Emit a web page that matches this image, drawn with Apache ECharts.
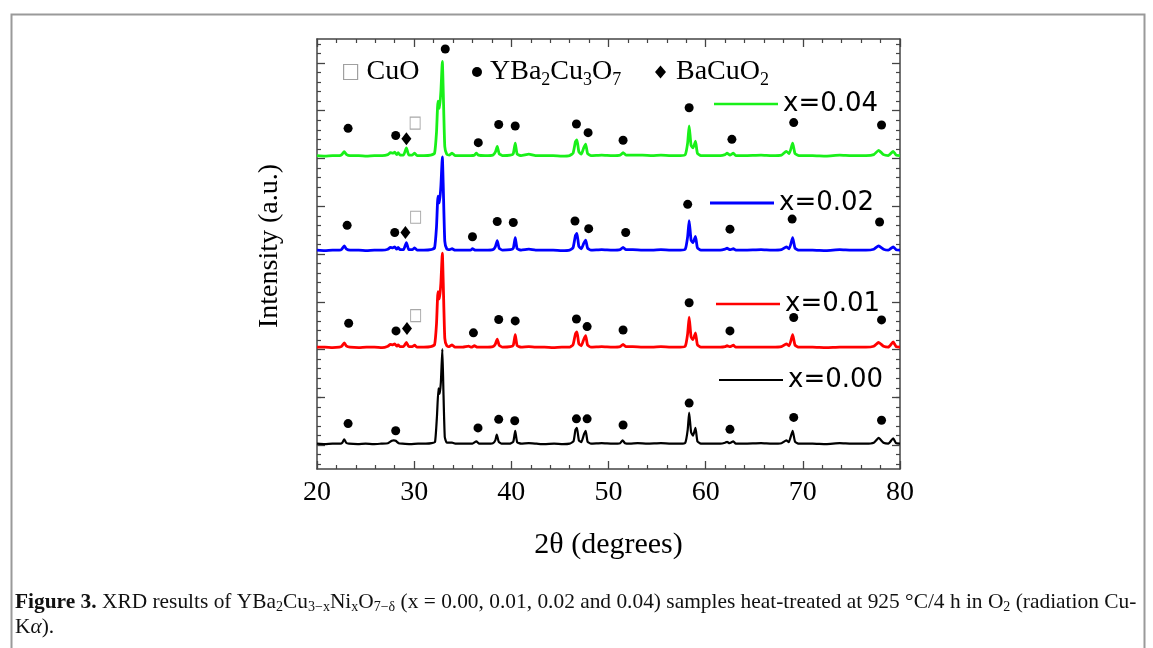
<!DOCTYPE html>
<html>
<head>
<meta charset="utf-8">
<title>XRD YBa2Cu3-xNixO7</title>
<script src="https://cdn.jsdelivr.net/npm/echarts@6/dist/echarts.min.js"></script>
<style>
  html, body { margin: 0; padding: 0; background: #fff; }
  #chart { width: 1153px; height: 648px; }
</style>
</head>
<body>
<div id="chart"></div>
<script>
// XRD patterns, [2theta, intensity above own baseline] (a.u.)
var seriesNames = ['x=0.00', 'x=0.01', 'x=0.02', 'x=0.04'];
var seriesColors = ['#000000', '#ff0000', '#0000ff', '#19f019'];
var baselineOffsets = [0.52, 2.54, 4.57, 6.55];

var pattern000 = [[20,0.01],[20.8,0.0],[21.6,0.01],[22.4,0.01],[22.6,0.03],[22.8,0.10],[23.0,0.03],[23.3,0.01],[24.2,0.0],[25.0,0.01],[25.8,0.0],[26.6,0.01],[27.3,0.02],[27.7,0.07],[27.9,0.08],[28.1,0.07],[28.4,0.02],[28.8,0.01],[29.6,0.0],[30.4,0.01],[31.2,0.01],[31.8,0.02],[32.15,0.05],[32.35,0.6],[32.5,1.17],[32.62,1.05],[32.75,1.3],[32.9,1.99],[33.0,1.2],[33.15,0.15],[33.35,0.03],[33.9,0.03],[34.3,0.01],[35.2,0.01],[36.0,0.01],[36.4,0.06],[36.7,0.01],[37.4,0.01],[38.1,0.02],[38.35,0.08],[38.5,0.20],[38.7,0.05],[39.0,0.01],[39.8,0.01],[40.2,0.05],[40.4,0.28],[40.6,0.04],[41.0,0.01],[41.8,0.02],[42.6,0.01],[43.4,0.0],[44.4,0.01],[45.3,0.0],[46.0,0.01],[46.4,0.06],[46.6,0.30],[46.75,0.34],[46.95,0.08],[47.2,0.04],[47.5,0.22],[47.65,0.28],[47.85,0.05],[48.2,0.01],[49.3,0.02],[50.4,0.01],[51.2,0.02],[51.45,0.08],[51.7,0.02],[52.2,0.01],[53.0,0.02],[54.0,0.01],[55.4,0.02],[56.4,0.01],[57.4,0.01],[57.9,0.03],[58.15,0.3],[58.3,0.66],[58.5,0.25],[58.7,0.18],[58.95,0.34],[59.15,0.06],[59.5,0.01],[60.5,0.01],[61.5,0.01],[62.0,0.03],[62.2,0.05],[62.45,0.02],[62.85,0.06],[63.1,0.01],[64.0,0.01],[65.7,0.02],[66.8,0.01],[67.8,0.02],[68.3,0.08],[68.55,0.04],[68.95,0.28],[69.2,0.05],[69.6,0.01],[71.0,0.01],[72.4,0.0],[73.8,0.02],[75.0,0.01],[76.5,0.01],[77.3,0.03],[77.8,0.13],[78.3,0.03],[78.8,0.01],[79.3,0.12],[79.6,0.02],[80,0.01]];

var pattern001 = [[20,0.01],[20.8,0.01],[21.6,0.0],[22.3,0.01],[22.55,0.03],[22.8,0.10],[23.05,0.03],[23.4,0.01],[24.3,0.0],[25.1,0.01],[25.9,0.01],[26.7,0.0],[27.3,0.03],[27.55,0.07],[27.8,0.06],[28.0,0.08],[28.2,0.03],[28.35,0.06],[28.55,0.02],[28.9,0.02],[29.2,0.11],[29.45,0.02],[29.8,0.02],[30.05,0.05],[30.3,0.01],[31.0,0.01],[31.7,0.02],[32.1,0.06],[32.3,0.5],[32.45,1.17],[32.6,1.02],[32.75,1.35],[32.9,1.98],[33.0,1.3],[33.15,0.2],[33.35,0.04],[33.6,0.02],[33.9,0.06],[34.2,0.01],[35.0,0.01],[35.6,0.03],[35.9,0.01],[36.2,0.04],[36.5,0.01],[37.3,0.01],[38.1,0.02],[38.35,0.07],[38.55,0.18],[38.75,0.05],[39.1,0.01],[39.9,0.02],[40.2,0.05],[40.4,0.27],[40.6,0.04],[41.0,0.01],[41.8,0.02],[42.5,0.01],[43.4,0.01],[44.3,0.0],[45.2,0.01],[46.0,0.01],[46.35,0.06],[46.6,0.29],[46.75,0.33],[46.95,0.08],[47.2,0.04],[47.45,0.17],[47.65,0.25],[47.85,0.05],[48.2,0.01],[49.3,0.02],[50.4,0.01],[51.2,0.02],[51.5,0.07],[51.8,0.02],[52.5,0.02],[53.5,0.01],[54.5,0.01],[55.4,0.02],[56.4,0.01],[57.4,0.01],[57.9,0.03],[58.15,0.3],[58.3,0.64],[58.5,0.22],[58.7,0.17],[58.95,0.31],[59.15,0.06],[59.5,0.01],[60.5,0.01],[61.5,0.01],[62.0,0.02],[62.2,0.04],[62.5,0.02],[62.85,0.05],[63.1,0.01],[64.0,0.01],[65.7,0.01],[66.8,0.01],[67.8,0.02],[68.3,0.08],[68.6,0.04],[68.95,0.27],[69.2,0.05],[69.6,0.01],[71.0,0.01],[72.4,0.0],[73.8,0.01],[75.0,0.01],[76.5,0.01],[77.3,0.03],[77.8,0.11],[78.3,0.03],[78.8,0.01],[79.3,0.12],[79.6,0.02],[80,0.01]];

var pattern002 = [[20,0.01],[20.8,0.0],[21.6,0.01],[22.3,0.01],[22.55,0.03],[22.8,0.10],[23.05,0.03],[23.4,0.01],[24.3,0.01],[25.1,0.0],[25.9,0.01],[26.7,0.01],[27.3,0.03],[27.55,0.07],[27.8,0.06],[28.0,0.08],[28.2,0.03],[28.35,0.07],[28.55,0.02],[28.9,0.02],[29.2,0.17],[29.45,0.02],[29.8,0.02],[30.05,0.06],[30.3,0.01],[31.0,0.01],[31.7,0.02],[32.1,0.06],[32.3,0.5],[32.45,1.14],[32.6,1.0],[32.75,1.35],[32.9,1.96],[33.0,1.3],[33.15,0.2],[33.35,0.04],[33.6,0.02],[33.9,0.04],[34.2,0.01],[35.0,0.01],[35.8,0.01],[36.0,0.04],[36.3,0.01],[37.3,0.01],[38.1,0.02],[38.35,0.08],[38.55,0.21],[38.75,0.05],[39.1,0.01],[39.9,0.02],[40.2,0.05],[40.4,0.27],[40.6,0.04],[41.0,0.01],[41.8,0.03],[42.5,0.01],[43.4,0.01],[44.3,0.01],[45.2,0.0],[46.0,0.01],[46.35,0.06],[46.6,0.32],[46.75,0.36],[46.95,0.09],[47.2,0.04],[47.45,0.15],[47.65,0.22],[47.85,0.05],[48.2,0.01],[49.3,0.02],[50.4,0.01],[51.2,0.02],[51.5,0.07],[51.8,0.02],[52.5,0.02],[53.5,0.01],[54.5,0.01],[55.4,0.02],[56.4,0.01],[57.4,0.01],[57.9,0.03],[58.15,0.3],[58.3,0.63],[58.5,0.22],[58.7,0.17],[58.95,0.30],[59.15,0.06],[59.5,0.01],[60.5,0.01],[61.5,0.01],[62.0,0.03],[62.2,0.05],[62.5,0.02],[62.85,0.04],[63.1,0.01],[64.0,0.01],[65.7,0.02],[66.8,0.01],[67.8,0.02],[68.3,0.08],[68.6,0.04],[68.95,0.27],[69.2,0.05],[69.6,0.01],[71.0,0.01],[72.4,0.0],[73.8,0.02],[75.0,0.01],[76.5,0.01],[77.3,0.03],[77.8,0.10],[78.3,0.03],[78.8,0.01],[79.3,0.08],[79.6,0.02],[80,0.01]];

var pattern004 = [[20,0.01],[20.8,0.0],[21.6,0.01],[22.3,0.01],[22.55,0.03],[22.8,0.09],[23.05,0.03],[23.4,0.01],[24.3,0.01],[25.1,0.0],[25.9,0.01],[26.7,0.01],[27.3,0.03],[27.55,0.07],[27.8,0.06],[28.0,0.08],[28.2,0.03],[28.35,0.07],[28.55,0.02],[28.9,0.02],[29.2,0.17],[29.45,0.02],[29.8,0.02],[30.05,0.06],[30.3,0.01],[31.0,0.01],[31.7,0.02],[32.1,0.06],[32.3,0.5],[32.45,1.15],[32.6,1.0],[32.75,1.35],[32.9,1.98],[33.0,1.3],[33.15,0.2],[33.35,0.04],[33.6,0.02],[33.9,0.06],[34.2,0.01],[35.0,0.01],[35.8,0.01],[36.2,0.02],[36.4,0.06],[36.6,0.02],[37.3,0.01],[38.1,0.02],[38.35,0.08],[38.55,0.20],[38.75,0.05],[39.1,0.01],[39.9,0.02],[40.2,0.05],[40.4,0.27],[40.6,0.04],[41.0,0.01],[41.8,0.04],[42.5,0.01],[43.4,0.01],[44.3,0.01],[45.2,0.0],[46.0,0.01],[46.35,0.06],[46.6,0.30],[46.75,0.34],[46.95,0.09],[47.2,0.04],[47.45,0.17],[47.65,0.25],[47.85,0.05],[48.2,0.01],[49.3,0.02],[50.4,0.01],[51.2,0.02],[51.5,0.07],[51.8,0.02],[52.5,0.02],[53.5,0.02],[54.5,0.01],[55.4,0.02],[56.4,0.01],[57.4,0.01],[57.9,0.03],[58.15,0.28],[58.3,0.63],[58.5,0.22],[58.7,0.17],[58.95,0.31],[59.15,0.06],[59.5,0.01],[60.5,0.01],[61.5,0.01],[62.0,0.03],[62.2,0.06],[62.5,0.02],[62.85,0.06],[63.1,0.01],[64.0,0.01],[65.7,0.02],[66.8,0.01],[67.8,0.02],[68.3,0.10],[68.6,0.05],[68.95,0.27],[69.2,0.05],[69.6,0.01],[71.0,0.01],[72.4,0.0],[73.8,0.02],[75.0,0.01],[76.5,0.01],[77.3,0.03],[77.8,0.12],[78.3,0.03],[78.8,0.01],[79.3,0.10],[79.6,0.02],[80,0.01]];

var patterns = [pattern000, pattern001, pattern002, pattern004];

// phase markers, [2theta, intensity] in plot coordinates
var ybcoMarks = [
  [23.2,0.95],[28.1,0.80],[36.57,0.86],[38.7,1.04],[40.35,1.01],[46.7,1.05],[47.8,1.05],[51.5,0.92],[58.3,1.38],[62.5,0.83],[69.06,1.08],[78.1,1.02],
  [23.26,3.05],[28.13,2.89],[36.1,2.85],[38.7,3.13],[40.4,3.10],[46.7,3.14],[47.8,2.98],[51.5,2.91],[58.3,3.48],[62.5,2.89],[69.06,3.17],[78.1,3.12],
  [23.1,5.10],[28.0,4.95],[36.0,4.86],[38.55,5.18],[40.2,5.16],[46.55,5.19],[47.96,5.03],[51.77,4.95],[58.15,5.54],[62.5,5.02],[68.9,5.23],[77.9,5.17],
  [23.2,7.13],[28.1,6.98],[33.2,8.79],[36.6,6.83],[38.7,7.21],[40.4,7.18],[46.7,7.22],[47.9,7.04],[51.5,6.88],[58.3,7.56],[62.7,6.90],[69.06,7.25],[78.1,7.20]
];
var bacuo2Marks = [[29.26,2.94],[29.1,4.95],[29.2,6.91]];
var cuoMarks = [[30.15,3.21],[30.15,5.27],[30.1,7.24]];

var xTickValues = [20, 30, 40, 50, 60, 70, 80];
var yMajorTicks = [0.5, 1.5, 2.5, 3.5, 4.5, 5.5, 6.5, 7.5, 8.5];
var yMinorTicks = [];
for (var t = 0.1; t < 9; t += 0.2) {
  if (Math.abs((t - 0.5) % 1) > 0.05) yMinorTicks.push(Math.round(t * 10) / 10);
}

var serif = '"Liberation Serif", "DejaVu Serif", serif';
var axisColor = '#444';

var myChart = echarts.init(document.getElementById('chart'));

var lineSeries = patterns.map(function(p, i) {
  return {
    name: seriesNames[i],
    type: 'line',
    xAxisIndex: 0,
    yAxisIndex: 0,
    symbol: 'none',
    smooth: 0.15,
    silent: true,
    color: seriesColors[i],
    lineStyle: { width: i === 0 ? 2.2 : 2.8, color: seriesColors[i] },
    data: p.map(function(d) { return [d[0], d[1] + baselineOffsets[i]]; }),
    z: 2 + i
  };
});

var markSeries = [
  {
    name: 'CuO', type: 'scatter', symbol: 'rect', symbolSize: [10, 12],
    itemStyle: { color: '#fff', borderColor: '#a8a8a8', borderWidth: 1, opacity: 1 },
    data: cuoMarks, z: 10
  },
  {
    name: 'YBCO', type: 'scatter', symbol: 'circle', symbolSize: 9,
    itemStyle: { color: '#000', opacity: 1 }, data: ybcoMarks, z: 10
  },
  {
    name: 'BaCuO2', type: 'scatter', symbol: 'diamond', symbolSize: [10, 13],
    itemStyle: { color: '#000', opacity: 1 }, data: bacuo2Marks, z: 10
  }
];

function lineLegend(name, left, top, color, h) {
  return {
    data: [{ name: name, icon: 'rect', itemStyle: { color: color } }],
    left: left, top: top, padding: 0,
    itemWidth: 64, itemHeight: h,
    selectedMode: false,
    textStyle: { fontFamily: '"DejaVu Sans", sans-serif', fontSize: 26, color: '#000', padding: [0, 0, 0, 0] }
  };
}

var phaseRich = {
  sub: { fontFamily: serif, fontSize: 18, color: '#000', padding: [16, 0, 0, 0] }
};
function phaseLegend(name, label, left, icon, w, h, style, gap) {
  return {
    data: [{ name: name, icon: icon, itemStyle: style }],
    left: left, top: 58, padding: 0,
    itemWidth: w, itemHeight: h,
    selectedMode: false,
    formatter: function() { return label; },
    textStyle: { fontFamily: serif, fontSize: 28, color: '#000', padding: [0, 0, 0, gap], rich: phaseRich }
  };
}

var option = {
  animation: false,
  backgroundColor: '#fff',
  grid: { left: 317, right: 253, top: 39, bottom: 179 },
  legend: [
    phaseLegend('CuO', 'CuO', 343, 'rect', 14, 15, { color: '#fff', borderColor: '#a0a0a0', borderWidth: 1.2 }, 4),
    phaseLegend('YBCO', 'YBa{sub|2}Cu{sub|3}O{sub|7}', 472, 'circle', 10, 10, { color: '#000' }, 3),
    phaseLegend('BaCuO2', 'BaCuO{sub|2}', 655, 'diamond', 11, 13, { color: '#000' }, 5),
    lineLegend('x=0.04', 714, 91, seriesColors[3], 2.4),
    lineLegend('x=0.02', 710, 190, seriesColors[2], 3),
    lineLegend('x=0.01', 716, 291, seriesColors[1], 2.4),
    lineLegend('x=0.00', 719, 367, seriesColors[0], 2)
  ],
  xAxis: [
    {
      type: 'value', min: 20, max: 80, interval: 10, position: 'bottom',
      name: '2θ (degrees)', nameLocation: 'middle', nameGap: 61,
      nameTextStyle: { fontFamily: serif, fontSize: 30, color: '#000' },
      axisLine: { show: true, onZero: false, lineStyle: { color: axisColor, width: 1.5 } },
      axisTick: { show: true, inside: true, length: 8, lineStyle: { color: axisColor, width: 1.3 } },
      minorTick: { show: true, splitNumber: 5, length: 4, lineStyle: { color: axisColor, width: 1.2 } },
      axisLabel: { show: true, margin: 10, fontFamily: serif, fontSize: 28, color: '#000',
        customValues: xTickValues },
      splitLine: { show: false }
    },
    {
      type: 'value', min: 20, max: 80, interval: 10, position: 'top',
      axisLine: { show: true, onZero: false, lineStyle: { color: axisColor, width: 1.5 } },
      axisTick: { show: true, inside: true, length: 8, lineStyle: { color: axisColor, width: 1.3 } },
      minorTick: { show: true, splitNumber: 5, length: 4, lineStyle: { color: axisColor, width: 1.2 } },
      axisLabel: { show: false },
      splitLine: { show: false }
    }
  ],
  yAxis: [
    {
      type: 'value', min: 0, max: 9, position: 'left',
      name: 'Intensity (a.u.)', nameLocation: 'middle', nameGap: 33,
      nameTextStyle: { fontFamily: serif, fontSize: 28, color: '#000', padding: [0, 0, 0, 16] },
      axisLine: { show: true, onZero: false, lineStyle: { color: axisColor, width: 1.5 } },
      axisTick: { show: true, inside: true, length: 8, customValues: yMajorTicks, lineStyle: { color: axisColor, width: 1.3 } },
      axisLabel: { show: false },
      splitLine: { show: false }
    },
    {
      type: 'value', min: 0, max: 9, position: 'left',
      axisLine: { show: false },
      axisTick: { show: true, inside: true, length: 4, customValues: yMinorTicks, lineStyle: { color: axisColor, width: 1.2 } },
      axisLabel: { show: false },
      splitLine: { show: false }
    },
    {
      type: 'value', min: 0, max: 9, position: 'right',
      axisLine: { show: true, onZero: false, lineStyle: { color: axisColor, width: 1.5 } },
      axisTick: { show: true, inside: true, length: 8, customValues: yMajorTicks, lineStyle: { color: axisColor, width: 1.3 } },
      axisLabel: { show: false },
      splitLine: { show: false }
    },
    {
      type: 'value', min: 0, max: 9, position: 'right',
      axisLine: { show: false },
      axisTick: { show: true, inside: true, length: 4, customValues: yMinorTicks, lineStyle: { color: axisColor, width: 1.2 } },
      axisLabel: { show: false },
      splitLine: { show: false }
    }
  ],
  graphic: [
    {
      type: 'rect', left: 9, top: 12, silent: true, z: -10,
      shape: { width: 1133, height: 700 },
      style: { fill: 'none', stroke: '#9a9a9a', lineWidth: 2 }
    },
    {
      type: 'text', left: 15, top: 590, silent: true,
      style: {
        text: '{b|Figure 3.} XRD results of YBa{s|2}Cu{s|3−x}Ni{s|x}O{s|7−δ} (x = 0.00, 0.01, 0.02 and 0.04) samples heat-treated at 925 °C/4 h in O{s|2} (radiation Cu-\nK{i|α}).',
        fontFamily: serif, fontSize: 21.4, fill: '#111', lineHeight: 25,
        rich: {
          b: { fontFamily: serif, fontSize: 21.4, fontWeight: 'bold', fill: '#111' },
          s: { fontFamily: serif, fontSize: 14, fill: '#111', padding: [10, 0, 0, 0] },
          i: { fontFamily: serif, fontSize: 21.4, fontStyle: 'italic', fill: '#111' }
        }
      }
    }
  ],
  series: lineSeries.concat(markSeries)
};

myChart.setOption(option);
</script>
</body>
</html>
